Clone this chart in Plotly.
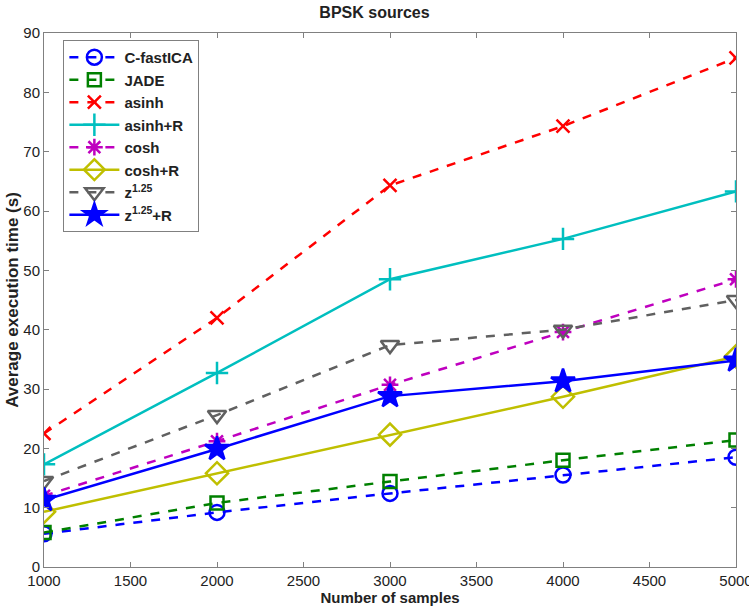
import plotly.graph_objects as go

samples = [1000, 2000, 3000, 4000, 5000]
names = ["C-fastICA", "JADE", "asinh", "asinh+R", "cosh", "cosh+R", "z<sup>1.25</sup>", "z<sup>1.25</sup>+R"]
c_fastica = [5.6, 9.2, 12.4, 15.5, 18.5]
jade = [5.8, 10.8, 14.4, 18.0, 21.4]
asinh = [22.5, 42.0, 64.3, 74.3, 85.8]
asinh_r = [17.3, 32.7, 48.5, 55.3, 63.3]
cosh = [12.0, 21.2, 30.7, 39.6, 48.5]
cosh_r = [9.3, 15.8, 22.3, 28.7, 35.5]
z125 = [14.5, 25.6, 37.4, 40.0, 45.0]
z125_r = [11.3, 19.9, 28.8, 31.3, 34.8]

series = [c_fastica, jade, asinh, asinh_r, cosh, cosh_r, z125, z125_r]
colors = ["#0000ff", "#008000", "#ff0000", "#00bfbf", "#bf00bf", "#bfbf00", "#606060", "#0000ff"]
symbols = ["circle-open", "square-open", "x-thin-open", "cross-thin-open", "asterisk-open",
           "diamond-open", "triangle-down-open", "star"]
dashes = ["dash", "dash", "dash", "solid", "dash", "solid", "dash", "solid"]
sizes = [15, 13, 13, 16, 14, 17, 16, 18]

fig = go.Figure()
for name, ys, col, sym, dsh, sz in zip(names, series, colors, symbols, dashes, sizes):
    fig.add_trace(go.Scatter(
        x=samples, y=ys, name=name, mode="lines+markers",
        line=dict(color=col, width=2.5, dash=dsh),
        marker=dict(symbol=sym, size=sz, color=col, line=dict(color=col, width=2.5)),
    ))

font_family = "Liberation Sans, Arial"
axis_common = dict(
    showgrid=False, zeroline=False, showline=True, mirror="ticks",
    linecolor="#808080", linewidth=1, ticks="inside", ticklen=5, tickcolor="#808080",
    tickfont=dict(family=font_family, size=15, color="#222"),
    ticklabeloverflow="allow",
)
fig.update_layout(
    width=749, height=608,
    margin=dict(l=44, r=13, t=33, b=41, autoexpand=False),
    plot_bgcolor="white", paper_bgcolor="white",
    title=dict(text="<b>BPSK sources</b>", x=0.5, xanchor="center", y=0.988, yanchor="top",
               font=dict(family=font_family, size=16, color="#222")),
    xaxis=dict(range=[1000, 5000], tickvals=[1000, 1500, 2000, 2500, 3000, 3500, 4000, 4500, 5000],
               title=dict(text="<b>Number of samples</b>", standoff=4,
                          font=dict(family=font_family, size=15, color="#222")),
               **axis_common),
    yaxis=dict(range=[0, 90], tickvals=list(range(0, 91, 10)),
               title=dict(text="<b>Average execution time (s)</b>", standoff=0,
                          font=dict(family=font_family, size=17, color="#222")),
               **axis_common),
    legend=dict(x=0.028, y=0.987, xanchor="left", yanchor="top",
                bgcolor="white", bordercolor="#808080", borderwidth=1,
                font=dict(family=font_family, size=15, color="#222", weight="bold"),
                tracegroupgap=0, itemwidth=50),
    showlegend=True,
)
fig.write_html("out.html")
